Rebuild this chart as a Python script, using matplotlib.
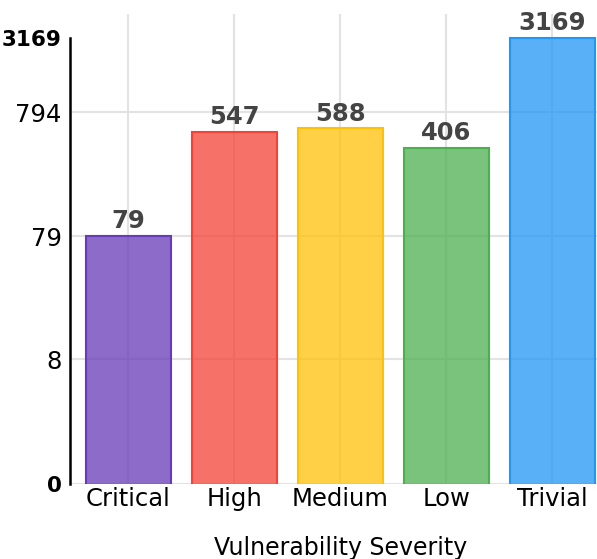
import matplotlib
matplotlib.use("Agg")
import matplotlib.pyplot as plt

# Vulnerability counts per severity
severities = ["Critical", "High", "Medium", "Low", "Trivial"]
counts = [79, 547, 588, 406, 3169]
face_colors = ["#673AB7", "#F44336", "#FFC107", "#4CAF50", "#2196F3"]

# Y axis ticks (log scale, bottom labelled as zero)
y_bottom = 0.78
y_top = 4950
tick_values = [y_bottom, 8, 79, 794, 3169]
tick_labels = ["0", "8", "79", "794", "3169"]

fig = plt.figure(figsize=(5.97, 5.59), dpi=100)
ax = fig.add_axes([0.1173, 0.1342, 0.9055, 0.8408])

x = list(range(len(severities)))
bars = ax.bar(x, counts, width=0.8, color=face_colors, alpha=0.75,
              edgecolor="none", zorder=2)
# solid outlines on top of the translucent fills
ax.bar(x, counts, width=0.8, color="none", edgecolor=face_colors,
       linewidth=1.5, zorder=3)

for xi, c in zip(x, counts):
    ax.annotate(str(c), (xi, c), xytext=(0, 2), textcoords="offset points",
                ha="center", va="bottom", fontsize=17.5, fontweight="bold",
                color="#444444")

ax.set_yscale("log")
ax.set_ylim(y_bottom, y_top)
ax.set_xlim(-0.55, 4.55)
ax.set_yticks(tick_values)
ax.set_yticklabels(tick_labels)
ax.minorticks_off()
ax.set_xticks(x)
ax.set_xticklabels(severities)

ax.tick_params(axis="both", length=0, labelsize=17.5)
ax.tick_params(axis="y", pad=6)
ax.tick_params(axis="x", pad=2)
for lbl in ax.get_yticklabels():
    if lbl.get_text() in ("0", "3169"):
        lbl.set_fontweight("bold")
        lbl.set_fontsize(15.5)

ax.grid(True, color="#e3e3e3", linewidth=1.5)
ax.set_axisbelow(True)
# no horizontal gridline at the maximum
ax.get_ygridlines()[-1].set_visible(False)

for side in ("top", "right", "bottom"):
    ax.spines[side].set_visible(False)
ax.spines["left"].set_linewidth(1.8)
ax.spines["left"].set_bounds(y_bottom, 3169)

ax.set_xlabel("Vulnerability Severity", fontsize=17, labelpad=18)

fig.savefig("out.png", dpi=100)
